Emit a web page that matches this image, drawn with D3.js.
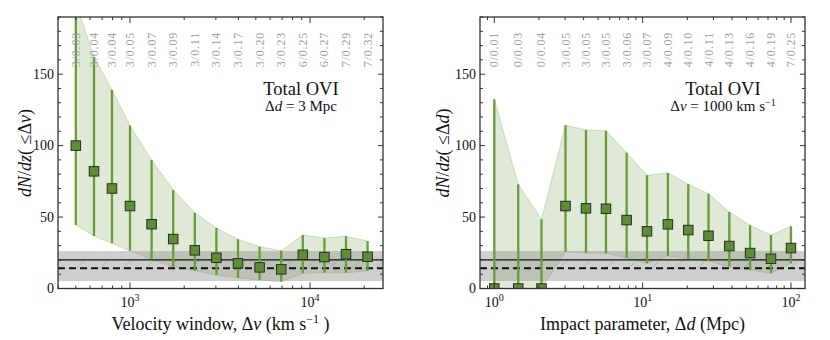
<!DOCTYPE html>
<html><head><meta charset="utf-8">
<script src="https://cdn.jsdelivr.net/npm/d3@7"></script>
<style>body{margin:0;background:#fff;}</style>
</head>
<body>
<svg id="c" width="830" height="340"></svg>
<script>
// ---- Left panel data: velocity window (km/s) ----
const vWindow = [500, 631, 794, 1000, 1318, 1738, 2291, 3020, 3981, 5248, 6918, 9120, 12023, 15849, 20893];
const vValue  = [100, 82, 70, 57.7, 45, 34.6, 26.7, 21.5, 17.6, 14.8, 13.4, 23.6, 22, 24, 22.2];
const vUpper  = [200, 162, 139, 114, 90, 69, 53, 42.3, 34.4, 29.2, 26.4, 37.4, 35.3, 36.5, 33.2];
const vLower  = [44.4, 36.7, 31.6, 26.4, 20.4, 15.2, 12.4, 9.4, 7.6, 5.9, 4.8, 10.6, 11, 11, 12.4];
const vLabels = ["3/0.03","3/0.04","3/0.04","3/0.05","3/0.07","3/0.09","3/0.11","3/0.14","3/0.17","3/0.20","3/0.23","6/0.25","6/0.27","7/0.29","7/0.32"];

// ---- Right panel data: impact parameter (Mpc) ----
const dImpact = [1.0, 1.45, 2.08, 3.02, 4.15, 5.66, 7.8, 10.7, 14.8, 20.3, 27.8, 38.4, 53, 73.3, 100];
const dValue  = [0, 0, 0, 57.7, 56.1, 55.8, 47.9, 40, 44.9, 40.9, 36.9, 29.7, 24.8, 20.8, 28.3];
const dUpper  = [132.5, 73, 48.4, 114.3, 111, 110.4, 95, 79.2, 80.8, 73, 66.3, 53.5, 44.2, 37.4, 43.5];
const dLower  = [0, 0, 0, 25.7, 24.8, 24.6, 21.5, 17.6, 22.7, 20.8, 19.2, 15.2, 12.9, 10.6, 17.6];
const dLabels = ["0/0.01","0/0.03","0/0.04","3/0.05","3/0.05","3/0.05","3/0.06","3/0.07","4/0.09","4/0.10","4/0.11","4/0.13","4/0.16","4/0.19","7/0.25"];

// ---- Reference (field) values ----
const refBand = [5.2, 26.2];
const refSolid = 20;
const refDashed = 14.1;
const refHatch = [14.1, 20];
const yTicksMajor = [0, 50, 100, 150];

const SERIF = '"Liberation Serif"';
const svg = d3.select("#c");
const defs = svg.append("defs");
const pat = defs.append("pattern").attr("id","hatch").attr("patternUnits","userSpaceOnUse")
  .attr("width",23).attr("height",23);
pat.append("path").attr("d","M-2,25 L25,-2").attr("stroke","#8a8a8a").attr("stroke-width",0.6).attr("opacity",0.7);

function txt(sel){ return sel.append("text").style("font-family",SERIF); }

function panel(cfg){
  const {x0,x1,y0,y1,xdom,xs,vals,up,lo,labels,decades,id} = cfg;
  const x = d3.scaleLog().domain(xdom).range([x0,x1]);
  const y = d3.scaleLinear().domain([0,190]).range([y1,y0]);
  defs.append("clipPath").attr("id","clip"+id).append("rect")
    .attr("x",x0).attr("y",y0).attr("width",x1-x0).attr("height",y1-y0);
  const g = svg.append("g");
  const pg = g.append("g").attr("clip-path",`url(#clip${id})`);

  const area = d3.area().x((d,i)=>x(xs[i])).y0((d,i)=>y(lo[i])).y1((d,i)=>y(up[i]));
  pg.append("path").datum(vals).attr("d",area)
    .attr("fill","rgb(120,165,80)").attr("fill-opacity",0.24)
    .attr("stroke","rgb(120,165,80)").attr("stroke-opacity",0.3).attr("stroke-width",1);

  pg.append("rect").attr("x",x0).attr("width",x1-x0)
    .attr("y",y(refBand[1])).attr("height",y(refBand[0])-y(refBand[1]))
    .attr("fill","#888").attr("fill-opacity",0.4);
  pg.append("rect").attr("x",x0).attr("width",x1-x0)
    .attr("y",y(refHatch[1])).attr("height",y(refHatch[0])-y(refHatch[1]))
    .attr("fill","url(#hatch)");
  pg.append("line").attr("x1",x0).attr("x2",x1).attr("y1",y(refSolid)).attr("y2",y(refSolid))
    .attr("stroke","#111").attr("stroke-width",1.1);
  pg.append("line").attr("x1",x0).attr("x2",x1).attr("y1",y(refDashed)).attr("y2",y(refDashed))
    .attr("stroke","#111").attr("stroke-width",2).attr("stroke-dasharray","7,4");

  pg.selectAll(".eb").data(vals).enter().append("line")
    .attr("x1",(d,i)=>x(xs[i])).attr("x2",(d,i)=>x(xs[i]))
    .attr("y1",(d,i)=>y(lo[i])).attr("y2",(d,i)=>y(up[i]))
    .attr("stroke","#6a9a3c").attr("stroke-width",2.3);
  const s = 9.5;
  pg.selectAll(".mk").data(vals).enter().append("rect")
    .attr("x",(d,i)=>x(xs[i])-s/2).attr("y",d=>y(d)-s/2)
    .attr("width",s).attr("height",s)
    .attr("fill","#5e8d37").attr("stroke","#2b2b2b").attr("stroke-width",1);

  g.selectAll(".tl").data(labels).enter().append("text").style("font-family",SERIF)
    .attr("transform",(d,i)=>`translate(${x(xs[i])+4},32) rotate(-90)`)
    .attr("text-anchor","end").attr("font-size","12px").attr("letter-spacing","0.8px")
    .attr("fill","#a0a0a0").text(d=>d);

  g.append("rect").attr("x",x0).attr("y",y0).attr("width",x1-x0).attr("height",y1-y0)
    .attr("fill","none").attr("stroke","#333").attr("stroke-width",1.3);

  d3.range(0,191,10).forEach(v=>{
    const L = v%50===0?5:3;
    g.append("line").attr("x1",x0).attr("x2",x0+L).attr("y1",y(v)).attr("y2",y(v)).attr("stroke","#333");
    g.append("line").attr("x1",x1).attr("x2",x1-L).attr("y1",y(v)).attr("y2",y(v)).attr("stroke","#333");
  });
  yTicksMajor.forEach(v=>{
    txt(g).attr("x",x0-4).attr("y",y(v)+4.5).attr("text-anchor","end")
      .attr("font-size","14px").attr("fill","#111").text(v);
  });
  const lo10 = Math.floor(Math.log10(xdom[0])), hi10 = Math.ceil(Math.log10(xdom[1]));
  for(let e=lo10;e<=hi10;e++){
    for(let m=1;m<10;m++){
      const v = m*Math.pow(10,e);
      if(v<xdom[0]||v>xdom[1]) continue;
      const L = m===1?6:3;
      g.append("line").attr("x1",x(v)).attr("x2",x(v)).attr("y1",y1).attr("y2",y1-L).attr("stroke","#333");
      g.append("line").attr("x1",x(v)).attr("x2",x(v)).attr("y1",y0).attr("y2",y0+L).attr("stroke","#333");
    }
  }
  decades.forEach(e=>{
    const t = txt(g).attr("x",x(Math.pow(10,e))).attr("y",y1+18)
      .attr("text-anchor","middle").attr("font-size","14px").attr("fill","#111");
    t.append("tspan").text("10");
    t.append("tspan").attr("dy",-6).attr("font-size","10px").text(e);
  });
}

panel({id:"L",x0:58,x1:383,y0:17,y1:288.5,xdom:[398.1,25440],xs:vWindow,vals:vValue,up:vUpper,lo:vLower,labels:vLabels,decades:[3,4]});
panel({id:"R",x0:480,x1:805,y0:17,y1:288.5,xdom:[0.801,124.3],xs:dImpact,vals:dValue,up:dUpper,lo:dLower,labels:dLabels,decades:[0,1,2]});

function xTitle(cx, parts){
  const t = txt(svg).attr("x",cx).attr("y",330).attr("text-anchor","middle")
    .attr("font-size","18px").attr("fill","#111");
  parts.forEach(p=>{ const s=t.append("tspan").text(p.t); if(p.i) s.attr("font-style","italic"); if(p.dy) s.attr("dy",p.dy); if(p.fs) s.attr("font-size",p.fs); });
}
xTitle(220.5,[{t:"Velocity window, Δ"},{t:"v",i:1},{t:" (km s"},{t:"−1",dy:-7,fs:"12px"},{t:" )",dy:7}]);
xTitle(642.5,[{t:"Impact parameter, Δ"},{t:"d",i:1},{t:" (Mpc)"}]);

function yTitle(cx, v){
  const t = txt(svg).attr("transform",`translate(${cx},153) rotate(-90)`)
    .attr("text-anchor","middle").attr("font-size","18px").attr("fill","#111");
  t.append("tspan").attr("font-style","italic").text("dN");
  t.append("tspan").text("/");
  t.append("tspan").attr("font-style","italic").text("dz");
  t.append("tspan").text("( ≤Δ");
  t.append("tspan").attr("font-style","italic").text(v);
  t.append("tspan").text(")");
}
yTitle(31,"v");
yTitle(449,"d");

function annot(cx, line2){
  txt(svg).attr("x",cx).attr("y",95).attr("text-anchor","middle")
    .attr("font-size","18.5px").attr("fill","#111").text("Total OVI");
  const t = txt(svg).attr("x",cx).attr("y",111).attr("text-anchor","middle")
    .attr("font-size","15px").attr("fill","#111");
  line2(t);
}
annot(301,t=>{ t.append("tspan").text("Δ"); t.append("tspan").attr("font-style","italic").text("d"); t.append("tspan").text(" = 3 Mpc"); });
annot(723,t=>{ t.append("tspan").text("Δ"); t.append("tspan").attr("font-style","italic").text("v"); t.append("tspan").text(" = 1000 km s");
  t.append("tspan").attr("dy",-5).attr("font-size","10px").text("−1"); });
</script>
</body></html>
